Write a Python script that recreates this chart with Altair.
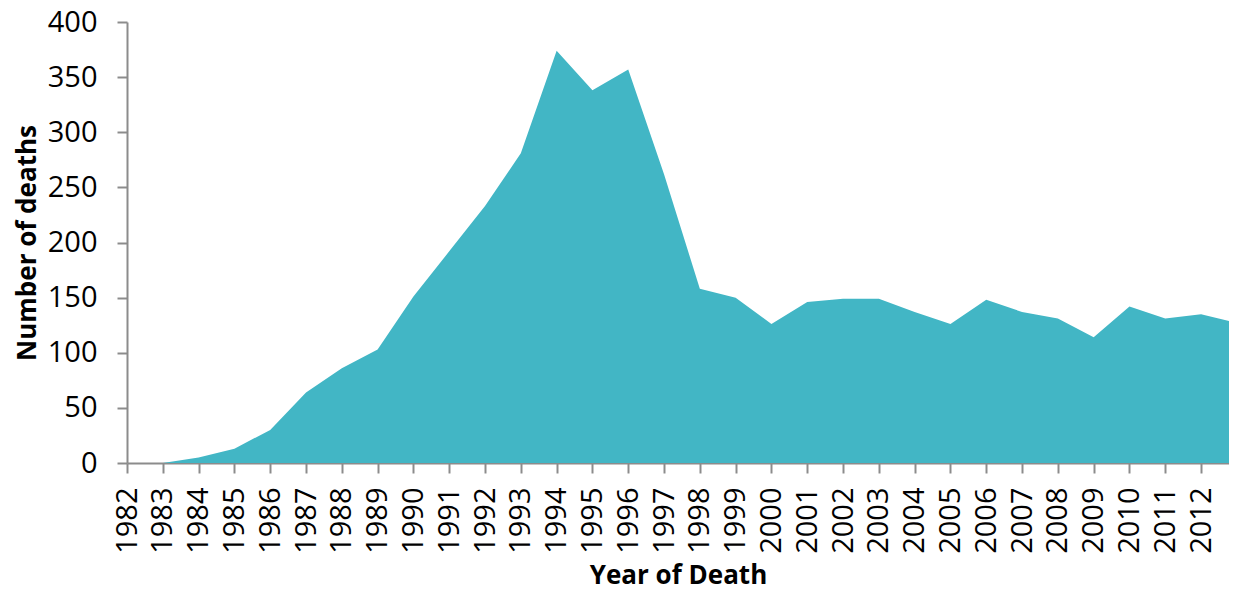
import altair as alt
import pandas as pd

years = list(range(1982, 2014))
deaths = [0, 0, 5, 13, 30, 64, 86, 103, 151, 192, 233, 281, 374, 338, 357, 262,
          158, 150, 126, 146, 149, 149, 137, 126, 148, 137, 131, 114, 142, 131, 135, 127]
tick_years = list(range(1982, 2013))
y_ticks = [0, 50, 100, 150, 200, 250, 300, 350, 400]

df = pd.DataFrame({"year": years, "deaths": deaths})

FONT = "Open Sans"
AXIS_GRAY = "#8c8c8c"

chart = alt.Chart(df).mark_area(color="#42B6C5", clip=True, opacity=1).encode(
    x=alt.X("year:Q",
            scale=alt.Scale(domain=[1982, 2012.78], nice=False, zero=False),
            axis=alt.Axis(title="Year of Death", values=tick_years, format="d",
                          labelAngle=-90, labelPadding=14, tickSize=10,
                          titlePadding=9, grid=False)),
    y=alt.Y("deaths:Q",
            scale=alt.Scale(domain=[0, 400], nice=False),
            axis=alt.Axis(title="Number of deaths", values=y_ticks,
                          labelPadding=20, tickSize=10, titlePadding=7, grid=False)),
).properties(
    width=1102,
    height=441,
    autosize=alt.AutoSizeParams(type="none"),
    padding={"left": 119, "top": 14, "right": 0, "bottom": 132},
).configure_view(
    stroke=None
).configure_axis(
    labelFont=FONT, labelFontSize=29, labelColor="#000000",
    titleFont=FONT, titleFontSize=26, titleFontWeight="bold", titleColor="#000000",
    domainColor=AXIS_GRAY, domainWidth=2, tickColor=AXIS_GRAY, tickWidth=2,
)

chart.save("out.html", embed_options={"renderer": "svg", "actions": False})
